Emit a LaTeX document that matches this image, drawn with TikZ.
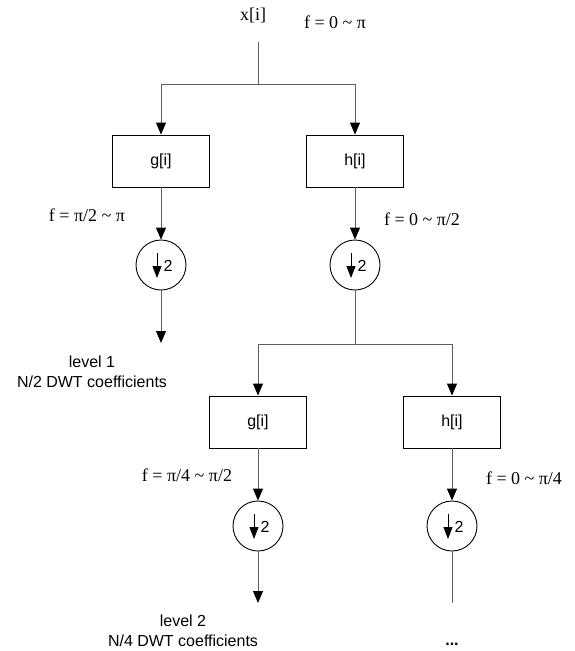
\documentclass[tikz,border=0pt]{standalone}
\usepackage{fontspec}
\setmainfont{Liberation Serif}
\setsansfont{Liberation Sans}
\usetikzlibrary{arrows.meta}
\definecolor{linegray}{RGB}{95,95,95}
\begin{document}
\begin{tikzpicture}[x=1pt,y=-1pt,
  sansf/.style={font=\fontsize{16}{20}\selectfont\sffamily},
  seriff/.style={font=\fontsize{18}{20}\selectfont\rmfamily},
  filterbox/.style={draw, line width=0.9pt, minimum width=97pt, minimum height=52pt, inner sep=0pt, sansf},
  dsamp/.style={draw, line width=0.9pt, circle, minimum size=50pt, inner sep=0pt},
  conn/.style={draw=linegray, line width=1pt},
  arr/.style={conn, -{Triangle[width=10pt,length=12pt,color=black]}},
  inarr/.style={draw=black, line width=1pt, -{Triangle[width=9pt,length=12pt]}},
  lbl/.style={inner sep=0pt, align=center}
]
\useasboundingbox (0,0) rectangle (575,651);

% input
\node[lbl, seriff] (xi) at (253,15) {x[i]};
\node[lbl, seriff] (f0) at (335,22) {f = 0 \char"007E{} π};
\coordinate (top) at (258,42);
\coordinate (split1) at (258,84);
\coordinate (sl1) at (161,84);
\coordinate (sr1) at (355,84);

% level 1 filters
\node[filterbox] (g1) at (161,161) {g[i]};
\node[filterbox] (h1) at (355,161) {h[i]};
\node[dsamp] (d1) at (161,265) {};
\node[dsamp] (d2) at (355,265) {};
\node[lbl, seriff] (fg1) at (87,215) {f = π/2 \char"007E{} π};
\node[lbl, seriff] (fh1) at (422,219) {f = 0 \char"007E{} π/2};
\coordinate (out1) at (161,343);
\node[lbl, sansf] (lev1) at (92,372) {level 1\\N/2 DWT coefficients};

\draw[conn] (top) -- (split1);
\draw[conn] (sl1) -- (sr1);
\draw[arr] (sl1) -- (g1.north);
\draw[arr] (sr1) -- (h1.north);
\draw[arr] (g1.south) -- (d1.north);
\draw[arr] (h1.south) -- (d2.north);
\draw[arr] (d1.south) -- (out1);

% level 2
\coordinate (split2) at (355,344);
\coordinate (sl2) at (258,344);
\coordinate (sr2) at (452,344);
\node[filterbox] (g2) at (258,422) {g[i]};
\node[filterbox] (h2) at (452,422) {h[i]};
\node[dsamp] (d3) at (258,526) {};
\node[dsamp] (d4) at (452,526) {};
\node[lbl, seriff] (fg2) at (187,475) {f = π/4 \char"007E{} π/2};
\node[lbl, seriff] (fh2) at (524,478) {f = 0 \char"007E{} π/4};
\coordinate (out2) at (258,603);
\coordinate (out3) at (452,603);
\node[lbl, sansf] (lev2) at (183,631) {level 2\\N/4 DWT coefficients};
\node[lbl, sansf] (dots) at (452,644) {\textbf{...}};

\draw[conn] (d2.south) -- (split2);
\draw[conn] (sl2) -- (sr2);
\draw[arr] (sl2) -- (g2.north);
\draw[arr] (sr2) -- (h2.north);
\draw[arr] (g2.south) -- (d3.north);
\draw[arr] (h2.south) -- (d4.north);
\draw[arr] (d3.south) -- (out2);
\draw[conn] (d4.south) -- (out3);

% downsampler symbols
\foreach \d in {d1,d2,d3,d4}{
  \draw[inarr] ([shift={(-4,-12)}]\d.center) -- ([shift={(-4,13)}]\d.center);
  \node[lbl, sansf] at ([shift={(7,1)}]\d.center) {2};
}
\end{tikzpicture}
\end{document}
